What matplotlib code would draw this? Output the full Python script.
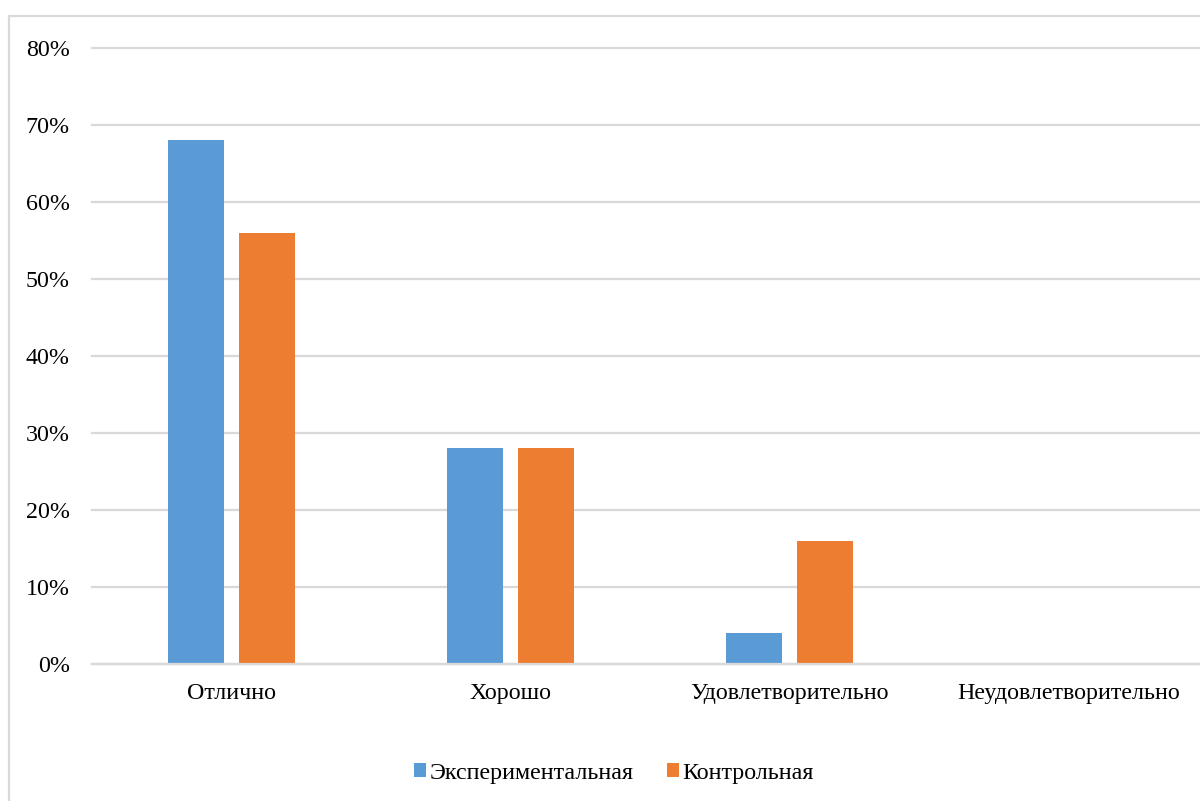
import matplotlib.pyplot as plt
from matplotlib.patches import Rectangle
import numpy as np

plt.rcParams['font.family'] = ['Liberation Serif', 'DejaVu Serif']

categories = ['Отлично', 'Хорошо', 'Удовлетворительно', 'Неудовлетворительно']
series_names = ['Экспериментальная', 'Контрольная']
experimental = [68, 28, 4, 0]
control = [56, 28, 16, 0]
yticks = [0, 10, 20, 30, 40, 50, 60, 70, 80]

blue = '#5B9BD5'
orange = '#ED7D31'
grid_color = '#D9D9D9'

W, H = 1200, 801
fig = plt.figure(figsize=(W / 100, H / 100), dpi=100)

# plot area runs past the right edge of the figure
ax = fig.add_axes([92 / W, 1 - 664 / H, 1116 / W, (664 - 48) / H])

x = np.arange(len(categories))
bw = 0.2
off = 0.127
ax.bar(x - off, experimental, bw, color=blue, label=series_names[0], zorder=3)
ax.bar(x + off, control, bw, color=orange, label=series_names[1], zorder=3)

ax.set_xlim(-0.5, len(categories) - 0.5)
ax.set_ylim(0, 80)
ax.set_yticks(yticks)
ax.set_yticklabels([f'{v}%' for v in yticks])
ax.set_xticks(x)
ax.set_xticklabels(categories)
ax.tick_params(axis='y', length=0, pad=16, labelsize=17.3)
ax.tick_params(axis='x', length=0, pad=14, labelsize=17.3)
ax.yaxis.grid(True, color=grid_color, linewidth=1.6, zorder=0)
for line in ax.get_ygridlines():
    line.set_clip_on(False)
for s in ['top', 'right', 'left']:
    ax.spines[s].set_visible(False)
ax.spines['bottom'].set_color(grid_color)
ax.spines['bottom'].set_linewidth(1.6)
ax.spines['bottom'].set_zorder(4)

# chart frame
fig.patches.append(Rectangle((9 / W, -0.1), 1.2, 1 - 16 / H + 0.1,
                             transform=fig.transFigure, fill=False,
                             edgecolor=grid_color, linewidth=1.6))

fig.legend(loc='center', bbox_to_anchor=(614 / W, 1 - 773 / H), ncol=2,
           frameon=False, fontsize=17.3, handlelength=0.5, handleheight=0.5,
           handletextpad=0.15, columnspacing=1.4)

fig.savefig('out.png', dpi=100)
